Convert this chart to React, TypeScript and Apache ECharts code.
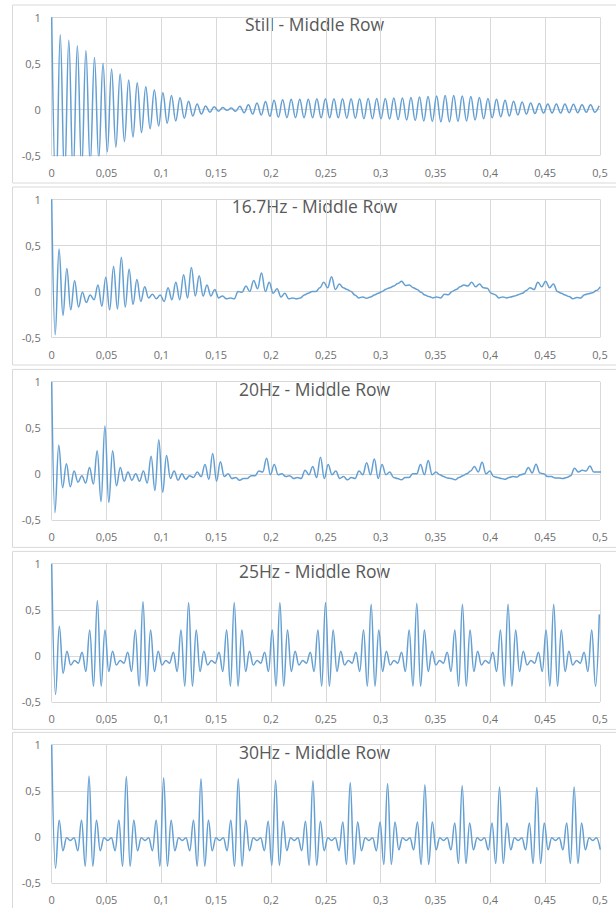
import React, { useEffect, useRef } from "react";
import * as echarts from "echarts";

// ---------- texts ----------
const titles = [
  "Still - Middle Row",
  "16.7Hz - Middle Row",
  "20Hz - Middle Row",
  "25Hz - Middle Row",
  "30Hz - Middle Row",
];

// ---------- panel 1: Still (extremes every half ring period) ----------
const stillStep = 0.0039; // seconds between successive extremes
const stillPeaks = [
  0.81, 0.75, 0.69, 0.64, 0.565, 0.5, 0.44, 0.385, 0.32, 0.29,
  0.245, 0.21, 0.18, 0.15, 0.126, 0.09, 0.06, 0.036, 0.03, 0.02,
  0.015, 0.035, 0.05, 0.07, 0.085, 0.1, 0.105, 0.11, 0.11, 0.11,
  0.115, 0.115, 0.115, 0.115, 0.115, 0.115, 0.12, 0.12, 0.12, 0.125,
  0.125, 0.13, 0.135, 0.14, 0.145, 0.15, 0.15, 0.145, 0.14, 0.13,
  0.12, 0.11, 0.1, 0.09, 0.08, 0.07, 0.065, 0.06, 0.06, 0.06,
  0.055, 0.05, 0.05, 0.04,
];
const stillTroughs = [
  -0.92, -0.78, -0.72, -0.66, -0.6, -0.54, -0.46, -0.41, -0.35, -0.3,
  -0.25, -0.21, -0.18, -0.15, -0.125, -0.095, -0.07, -0.05, -0.03, -0.02,
  -0.01, -0.02, -0.035, -0.05, -0.06, -0.075, -0.085, -0.09, -0.09, -0.09,
  -0.09, -0.09, -0.09, -0.09, -0.095, -0.095, -0.1, -0.1, -0.1, -0.105,
  -0.11, -0.115, -0.12, -0.125, -0.13, -0.135, -0.135, -0.13, -0.125, -0.115,
  -0.1, -0.09, -0.08, -0.07, -0.06, -0.05, -0.045, -0.04, -0.04, -0.04,
  -0.035, -0.035, -0.03, -0.03,
];

// ---------- panel 2: 16.7Hz ----------
const p2Start = 0.00315;
const p2Step = 0.00355;
const p2Values = [
  -0.47, 0.46, -0.26, 0.25, -0.2, 0.12, -0.17, -0.01, -0.12, -0.04,
  -0.09, 0.07, -0.16, 0.155, -0.2, 0.27, -0.19, 0.37, -0.17, 0.24,
  -0.14, 0.13, -0.11, 0.05, -0.07, -0.03, -0.08, -0.04, -0.11, 0.04,
  -0.09, 0.1, -0.09, 0.18, -0.07, 0.26, -0.05, 0.17, -0.05, 0.07,
  -0.05, 0.02, -0.07, -0.05, -0.08, -0.07, -0.08, 0.0, -0.01, 0.06,
  0.0, 0.12, 0.03, 0.2, 0.0, 0.1, -0.02, 0.03, -0.06, -0.02,
  -0.08, -0.07, -0.08, -0.07, -0.04, -0.02, 0.0, 0.0, 0.04, 0.1,
  0.04, 0.16, 0.02, 0.08, 0.04, 0.02, 0.0, -0.04, -0.07, -0.06,
  -0.075, -0.06, -0.04, -0.02, 0.0, 0.025, 0.04, 0.06, 0.085, 0.11,
  0.065, 0.07, 0.04, 0.02, -0.01, -0.04, -0.055, -0.07, -0.06, -0.07,
  -0.03, -0.035, 0.0, 0.02, 0.05, 0.07, 0.06, 0.1, 0.05, 0.08,
  0.04, 0.035, -0.02, -0.035, -0.07, -0.06, -0.07, -0.06, -0.05, -0.035,
  -0.02, 0.01, 0.04, 0.02, 0.1, 0.05, 0.11, 0.04, 0.08, 0.0,
  -0.02, -0.04, -0.055, -0.08, -0.065, -0.07, -0.035, -0.025, -0.015, 0.01,
  0.05,
];

// ---------- panel 3: 20Hz ----------
const p3Start = 0.0029;
const p3Step = 0.00351;
const p3Values = [
  -0.42, 0.31, -0.15, 0.11, -0.14, 0.03, -0.09, -0.02, -0.1, 0.07,
  -0.11, 0.25, -0.3, 0.52, -0.31, 0.25, -0.13, 0.07, -0.08, 0.02,
  -0.07, 0.0, -0.08, 0.03, -0.1, 0.19, -0.18, 0.37, -0.2, 0.2,
  -0.05, 0.03, -0.07, 0.0, -0.06, -0.02, -0.04, 0.02, -0.03, 0.1,
  -0.06, 0.22, -0.08, 0.13, -0.03, 0.0, -0.05, -0.04, -0.07, -0.05,
  -0.05, -0.02, -0.02, 0.03, 0.02, 0.17, -0.01, 0.1, -0.01, 0.0,
  -0.03, -0.02, -0.05, -0.04, -0.05, 0.04, -0.01, 0.08, -0.04, 0.18,
  -0.05, 0.1, -0.01, 0.03, -0.05, -0.03, -0.065, -0.04, -0.05, 0.03,
  -0.01, 0.12, -0.01, 0.16, -0.05, 0.1, -0.01, 0.02, -0.04, -0.05,
  -0.065, -0.04, -0.04, 0.0, 0.0, 0.1, -0.01, 0.145, -0.01, 0.02,
  -0.01, -0.03, -0.045, -0.05, -0.065, -0.04, -0.02, 0.0, 0.03, 0.08,
  0.02, 0.125, 0.0, 0.03, -0.03, -0.04, -0.05, -0.06, -0.04, -0.03,
  -0.035, -0.01, 0.0, 0.07, 0.01, 0.105, 0.01, 0.0, -0.03, -0.03,
  -0.045, -0.045, -0.05, -0.04, -0.02, 0.06, 0.02, 0.04, 0.03, 0.085,
  0.02, 0.02, 0.02,
];

// ---------- panel 4: 25Hz (from t = 0) ----------
const p4Step = 0.003468;
const p4Values = [
  1, -0.42, 0.32, -0.19, 0.05, -0.1, -0.05, -0.08, 0.04, -0.17, 0.28, -0.33,
  0.6, -0.33, 0.28, -0.17, 0.05, -0.1, -0.05, -0.08, 0.04, -0.17, 0.28, -0.33,
  0.59, -0.33, 0.28, -0.17, 0.05, -0.1, -0.05, -0.08, 0.04, -0.17, 0.28, -0.33,
  0.58, -0.33, 0.28, -0.17, 0.05, -0.1, -0.05, -0.08, 0.04, -0.17, 0.28, -0.33,
  0.58, -0.33, 0.28, -0.17, 0.05, -0.1, -0.05, -0.08, 0.04, -0.17, 0.28, -0.33,
  0.58, -0.33, 0.28, -0.17, 0.05, -0.1, -0.05, -0.08, 0.04, -0.17, 0.28, -0.33,
  0.58, -0.33, 0.28, -0.17, 0.05, -0.1, -0.05, -0.08, 0.04, -0.17, 0.28, -0.33,
  0.56, -0.33, 0.28, -0.17, 0.05, -0.1, -0.05, -0.08, 0.04, -0.17, 0.28, -0.33,
  0.57, -0.33, 0.28, -0.17, 0.05, -0.1, -0.05, -0.08, 0.04, -0.17, 0.28, -0.33,
  0.56, -0.33, 0.28, -0.17, 0.05, -0.1, -0.05, -0.08, 0.04, -0.17, 0.28, -0.33,
  0.56, -0.33, 0.28, -0.17, 0.05, -0.1, -0.05, -0.08, 0.04, -0.17, 0.28, -0.33,
  0.56, -0.33, 0.28, -0.17, 0.05, -0.1, -0.05, -0.08, 0.04, -0.17, 0.28, -0.33,
  0.45,
];

// ---------- panel 5: 30Hz (from t = 0) ----------
const p5Step = 0.003403;
const p5Values = [
  1, -0.34, 0.18, -0.15, -0.01, -0.04, -0.01, -0.15, 0.18, -0.32,
  0.66, -0.32, 0.18, -0.15, -0.01, -0.04, -0.01, -0.15, 0.18, -0.32,
  0.655, -0.32, 0.18, -0.15, -0.01, -0.04, -0.01, -0.15, 0.18, -0.32,
  0.64, -0.32, 0.18, -0.15, -0.01, -0.04, -0.01, -0.15, 0.18, -0.32,
  0.63, -0.32, 0.18, -0.15, -0.01, -0.04, -0.01, -0.15, 0.18, -0.32,
  0.63, -0.32, 0.18, -0.15, -0.01, -0.04, -0.01, -0.15, 0.17, -0.31,
  0.615, -0.31, 0.17, -0.15, -0.01, -0.04, -0.01, -0.15, 0.17, -0.31,
  0.61, -0.31, 0.17, -0.15, -0.01, -0.04, -0.01, -0.15, 0.16, -0.3,
  0.59, -0.3, 0.16, -0.15, -0.01, -0.04, -0.01, -0.15, 0.16, -0.3,
  0.58, -0.3, 0.16, -0.14, -0.01, -0.04, -0.01, -0.14, 0.16, -0.3,
  0.565, -0.3, 0.16, -0.14, -0.01, -0.04, -0.01, -0.14, 0.15, -0.29,
  0.555, -0.29, 0.15, -0.14, -0.01, -0.04, -0.01, -0.14, 0.15, -0.29,
  0.54, -0.29, 0.15, -0.14, -0.01, -0.04, -0.01, -0.14, 0.15, -0.29,
  0.535, -0.29, 0.15, -0.14, -0.01, -0.04, -0.01, -0.14, 0.15, -0.29,
  0.54, -0.29, 0.15, -0.14, -0.01, -0.04, -0.01, -0.14,
];

// ---------- build [t, v] pairs ----------
function buildStill(): number[][] {
  const d: number[][] = [[0, 1]];
  for (let j = 0; j < stillPeaks.length; j++) {
    d.push([(2 * j + 1) * stillStep, stillTroughs[j]]);
    d.push([(2 * j + 2) * stillStep, stillPeaks[j]]);
  }
  return d;
}
function buildOffset(start: number, step: number, vals: number[]): number[][] {
  const d: number[][] = [[0, 1]];
  vals.forEach((v, i) => d.push([start + i * step, v]));
  return d;
}
function buildFromZero(step: number, vals: number[]): number[][] {
  return vals.map((v, i) => [i * step, v]);
}

const seriesData = [
  buildStill(),
  buildOffset(p2Start, p2Step, p2Values),
  buildOffset(p3Start, p3Step, p3Values),
  buildFromZero(p4Step, p4Values),
  buildFromZero(p5Step, p5Values),
];

const panelTops = [17.3, 199.3, 381.7, 563.7, 744.7];
const PLOT_LEFT = 51.7;
const PLOT_W = 548.3;
const PLOT_H = 138.2;
const FONT = "'Open Sans', 'DejaVu Sans', sans-serif";

const fmt = (v: number) => String(Math.round(v * 100) / 100).replace(".", ",");

export default function App() {
  const ref = useRef<HTMLDivElement>(null);
  useEffect(() => {
    document.body.style.margin = "0";
    if (!ref.current) return;
    const chart = echarts.init(ref.current, undefined, { renderer: "svg" });
    const graphics: any[] = [];
    panelTops.forEach((top, i) => {
      graphics.push({
        type: "rect",
        silent: true,
        shape: { x: 12.5, y: top - 12.3, width: 640, height: 178 },
        style: { fill: "none", stroke: "#d9d9d9", lineWidth: 1 },
      });
      graphics.push({
        type: "text",
        silent: true,
        x: 314.5,
        y: top + 7,
        style: {
          text: titles[i],
          fontSize: 17.5,
          fontFamily: FONT,
          fill: "#595959",
          align: "center",
          verticalAlign: "middle",
          textAlign: "center",
          textVerticalAlign: "middle",
        },
      });
    });
    chart.setOption({
      animation: false,
      backgroundColor: "#ffffff",
      grid: panelTops.map((top) => ({
        left: PLOT_LEFT,
        top,
        width: PLOT_W,
        height: PLOT_H,
        containLabel: false,
        outerBoundsMode: "none",
      })),
      xAxis: panelTops.map((_, i) => ({
        type: "value",
        gridIndex: i,
        min: 0,
        max: 0.5,
        interval: 0.05,
        axisLine: { show: false },
        axisTick: { show: false },
        splitLine: { show: true, lineStyle: { color: "#d9d9d9", width: 1 } },
        axisLabel: {
          formatter: fmt,
          color: "#6f6f6f",
          fontSize: 11,
          fontFamily: FONT,
          margin: 11,
          showMinLabel: true,
          showMaxLabel: true,
        },
      })),
      yAxis: panelTops.map((_, i) => ({
        type: "value",
        gridIndex: i,
        min: -0.5,
        max: 1,
        interval: 0.5,
        axisLine: { show: false },
        axisTick: { show: false },
        splitLine: { show: true, lineStyle: { color: "#d9d9d9", width: 1 } },
        axisLabel: {
          formatter: fmt,
          color: "#6f6f6f",
          fontSize: 11,
          fontFamily: FONT,
          margin: 11,
          showMinLabel: true,
          showMaxLabel: true,
        },
      })),
      series: seriesData.map((data, i) => ({
        type: "line",
        xAxisIndex: i,
        yAxisIndex: i,
        data,
        smooth: 0.4,
        smoothMonotone: "x",
        showSymbol: false,
        symbol: "none",
        clip: true,
        silent: true,
        lineStyle: { color: "#649fd2", width: 1.5 },
      })),
      graphic: graphics,
    });
    return () => chart.dispose();
  }, []);
  return <div ref={ref} style={{ width: 616, height: 908 }} />;
}
